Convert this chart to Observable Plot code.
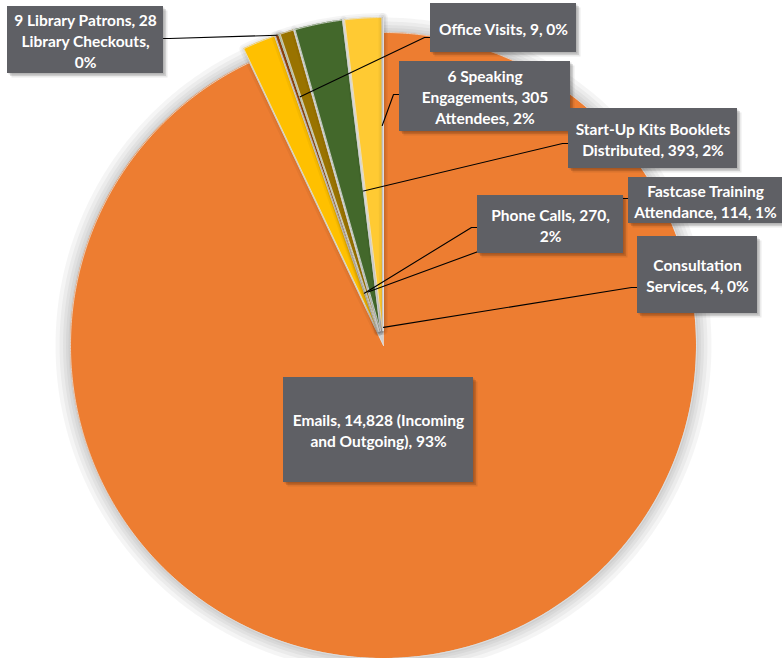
<!DOCTYPE html>
<html>
<head>
<meta charset="utf-8">
<script src="https://cdn.jsdelivr.net/npm/d3@7"></script>
<script src="https://cdn.jsdelivr.net/npm/@observablehq/plot@0.6"></script>
<style>
  html, body { margin: 0; padding: 0; background: #fff; }
  #chart svg { display: block; }
</style>
</head>
<body>
<div id="chart"></div>
<script>
// ---- data (clockwise order from 12 o'clock) ----
const names = ["Emails", "Phone Calls", "9 Library Patrons", "Office Visits",
  "Fastcase Training Attendance", "Start-Up Kits Booklets Distributed",
  "6 Speaking Engagements", "Consultation Services"];
const values = [14828, 270, 28, 9, 114, 393, 305, 4];
const labelTexts = [
  "Emails, 14,828 (Incoming\nand Outgoing), 93%",
  "Phone Calls, 270,\n2%",
  "9 Library Patrons, 28\nLibrary Checkouts,\n0%",
  "Office Visits, 9, 0%",
  "Fastcase Training\nAttendance, 114, 1%",
  "Start-Up Kits Booklets\nDistributed, 393, 2%",
  "6 Speaking\nEngagements, 305\nAttendees, 2%",
  "Consultation\nServices, 4, 0%"
];
const colors = ["#ED7D31", "#FFC000", "#9E480E", "#70AD47", "#997300", "#43682B", "#FFCA33", "#A5A5A5"];

// ---- layout ----
const W = 782, H = 658;
const cx = 383, cy = 345, R = 313, explode = 15;
const boxes = [
  [283, 377, 473, 482],
  [477, 195, 623, 253],
  [7, 6, 163, 73],
  [430, 3, 576, 52],
  [628, 177, 782, 223],
  [568, 108, 737, 168],
  [399, 61, 570, 131],
  [637, 236, 757, 313]
];
const leaders = [
  null,
  [1, 0.13, "left", 227],
  [0.5, 1.0, "right", 38],
  [0.5, 0.79, "left", 37],
  [1, 0.13, "left", 198],
  [1, 0.45, "left", 143],
  [1, 0.655, "left", 94],
  [0.5, 0.01, "left", 287]
];

const arcs = d3.pie().sort(null).value(d => d)(values);
const slices = arcs.map((a, i) => {
  const mid = (a.startAngle + a.endAngle) / 2;
  const e = i === 0 ? 0 : explode;
  const ax = cx + e * Math.sin(mid), ay = cy - e * Math.cos(mid);
  const arcPts = [];
  const n = Math.max(2, Math.ceil((a.endAngle - a.startAngle) / 0.01));
  for (let k = 0; k <= n; k++) {
    const t = a.startAngle + (a.endAngle - a.startAngle) * k / n;
    arcPts.push({x: ax + R * Math.sin(t), y: ay - R * Math.cos(t), ax, ay});
  }
  const outline = [{x: ax, y: ay}, ...arcPts, {x: ax, y: ay}];
  return {i, a, ax, ay, arcPts, outline};
});

const leaderLines = [];
leaders.forEach((l, i) => {
  if (!l) return;
  const s = slices[i];
  const ang = s.a.startAngle + (s.a.endAngle - s.a.startAngle) * l[0];
  const rho = R * l[1];
  const b = boxes[i];
  const edge = l[2] === "left" ? b[0] : b[2];
  const elbow = l[2] === "left" ? edge - 6 : edge + 6;
  leaderLines.push({k: i, x: s.ax + rho * Math.sin(ang), y: s.ay - rho * Math.cos(ang)});
  leaderLines.push({k: i, x: elbow, y: l[3]});
  leaderLines.push({k: i, x: edge, y: l[3]});
});

const boxData = boxes.map((b, i) => ({x1: b[0], y1: b[1], x2: b[2], y2: b[3],
  cxm: (b[0] + b[2]) / 2, cym: (b[1] + b[3]) / 2, text: labelTexts[i]}));

const glowWidths = [30, 22, 15, 9, 4];
const sliceMarks = [];
slices.forEach(s => {
  const widths = s.i === 0 ? glowWidths : [9, 5];
  widths.forEach(w => sliceMarks.push(Plot.line(s.outline, {x: "x", y: "y", stroke: "#000",
    strokeOpacity: 0.04, strokeWidth: w, strokeLinejoin: "round"})));
  sliceMarks.push(Plot.area(s.arcPts, {x1: "x", y1: "y", x2: "ax", y2: "ay", fill: colors[s.i], stroke: "none"}));
  sliceMarks.push(Plot.line(s.outline, {x: "x", y: "y", stroke: "#E2E2E2", strokeWidth: 0.8}));
});

const shadowMarks = [[1.5, 0.12], [3, 0.12], [4.5, 0.08]].map(([d, o]) =>
  Plot.rect(boxData, {x1: "x1", x2: "x2", y1: "y1", y2: "y2", dx: d, dy: d, fill: "#000", fillOpacity: o}));

const chart = Plot.plot({
  width: W, height: H, margin: 0,
  x: {domain: [0, W], range: [0, W], axis: null},
  y: {domain: [0, H], range: [0, H], axis: null},
  style: {background: "#fff"},
  marks: [
    ...sliceMarks,
    Plot.line(leaderLines, {x: "x", y: "y", z: "k", stroke: "#000", strokeWidth: 1.1}),
    ...shadowMarks,
    Plot.rect(boxData, {x1: "x1", x2: "x2", y1: "y1", y2: "y2", fill: "#5F6065"}),
    Plot.text(boxData, {x: "cxm", y: "cym", text: "text", fill: "#fff", fontWeight: "bold",
      fontSize: 15.5, lineHeight: 1.35, fontFamily: "Lato, 'Open Sans', sans-serif", textAnchor: "middle"})
  ]
});
document.getElementById("chart").appendChild(chart);
</script>
</body>
</html>
